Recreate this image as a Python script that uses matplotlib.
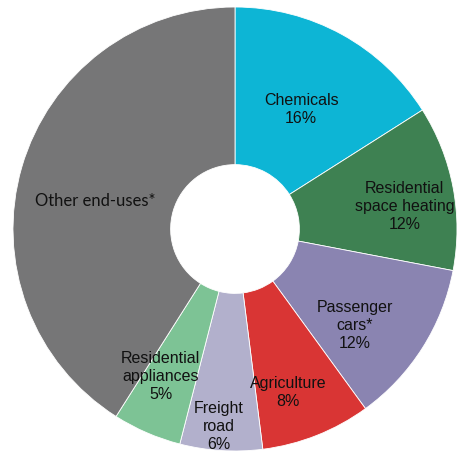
import matplotlib
matplotlib.use("Agg")
import matplotlib.pyplot as plt
import numpy as np

# data
categories = ["Chemicals", "Residential\nspace heating", "Passenger\ncars*",
              "Agriculture", "Freight\nroad", "Residential\nappliances",
              "Other end-uses*"]
shares = [16, 12, 12, 8, 6, 5, 41]
show_pct = [True, True, True, True, True, True, False]
colors = ["#0db5d5", "#3e8152", "#8a84b1", "#d93534", "#b2b0cc",
          "#7dc395", "#767677"]

# label placement (radius as fraction of outer, angle shift in degrees)
label_r = [0.62, 0.77, 0.69, 0.77, 0.89, 0.74, 0.645]
label_shift = [0, -3, -6, -3.5, -1, -3.5, 4.5]

fig = plt.figure(figsize=(4.57, 4.52), dpi=100)
ax = fig.add_axes([0, 0, 1, 1])

wedges, _ = ax.pie(shares, colors=colors, startangle=90, counterclock=False,
                   radius=1.0,
                   wedgeprops=dict(width=0.71, edgecolor="white", linewidth=0.6))

for w, name, val, pct, r, sh in zip(wedges, categories, shares, show_pct,
                                     label_r, label_shift):
    mid = np.deg2rad((w.theta1 + w.theta2) / 2 + sh)
    x, y = r * np.cos(mid), r * np.sin(mid)
    if pct:
        ax.text(x, y, f"{name}\n{val}%", ha="center", va="center",
                fontsize=11.5, family="Liberation Sans", color="#111111",
                linespacing=1.25)
    else:
        ax.text(x, y, name, ha="center", va="center",
                fontsize=12, family="Lato", color="#111111")

ax.set_xlim(-235 / 222, 222 / 222)
ax.set_ylim(-222 / 222, 230 / 222)
ax.set_aspect("equal")
ax.axis("off")

fig.savefig("out.png", dpi=100)
